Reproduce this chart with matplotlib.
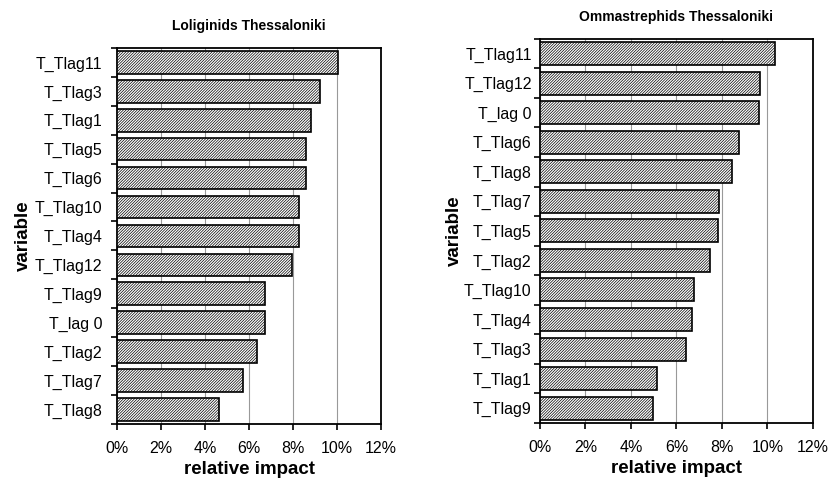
import numpy as np
import matplotlib.pyplot as plt
from matplotlib.ticker import FixedLocator, PercentFormatter

plt.rcParams['font.family'] = ['Liberation Sans', 'DejaVu Sans']
plt.rcParams['hatch.linewidth'] = 0.5
plt.rcParams['hatch.color'] = '#444444'

# relative impact (%) per lag variable, top to bottom
lol_vars = ['T_Tlag11', 'T_Tlag3', 'T_Tlag1', 'T_Tlag5', 'T_Tlag6', 'T_Tlag10', 'T_Tlag4',
            'T_Tlag12', 'T_Tlag9', 'T_lag 0', 'T_Tlag2', 'T_Tlag7', 'T_Tlag8']
lol_vals = [10.06, 9.21, 8.82, 8.6, 8.6, 8.26, 8.26, 7.93, 6.74, 6.74, 6.36, 5.74, 4.64]

omm_vars = ['T_Tlag11', 'T_Tlag12', 'T_lag 0', 'T_Tlag6', 'T_Tlag8', 'T_Tlag7', 'T_Tlag5',
            'T_Tlag2', 'T_Tlag10', 'T_Tlag4', 'T_Tlag3', 'T_Tlag1', 'T_Tlag9']
omm_vals = [10.34, 9.68, 9.62, 8.77, 8.45, 7.89, 7.84, 7.48, 6.77, 6.67, 6.4, 5.13, 4.99]

xticks = [0, 2, 4, 6, 8, 10, 12]


def impact_panel(ax, names, vals, title, title_pad, ypad, ylabpad):
    n = len(names)
    y = np.arange(n)[::-1]
    ax.barh(y, vals, height=0.78, color='white', edgecolor='black',
            linewidth=1.2, hatch='/' * 12, zorder=3)
    ax.set_ylim(-0.5, n - 0.5)
    ax.set_xlim(0, 12)
    ax.set_yticks(y)
    ax.set_yticklabels(names, fontsize=11.5)
    # category ticks sit between the bars
    ax.yaxis.set_minor_locator(FixedLocator(np.arange(n + 1) - 0.5))
    ax.tick_params(axis='y', which='major', length=0, pad=ypad)
    ax.tick_params(axis='y', which='minor', length=4, width=1.2, direction='out')
    ax.set_xticks(xticks)
    ax.xaxis.set_major_formatter(PercentFormatter(decimals=0))
    ax.tick_params(axis='x', length=4, width=1.2, direction='out', labelsize=11.5, pad=8)
    ax.grid(axis='x', color='#999999', linewidth=0.8, zorder=0)
    for s in ax.spines.values():
        s.set_linewidth(1.3)
    ax.set_xlabel('relative impact', fontsize=13.5, fontweight='bold', labelpad=4)
    ax.set_ylabel('variable', fontsize=13.5, fontweight='bold', labelpad=ylabpad)
    ax.set_title(title, fontsize=10, fontweight='bold', pad=title_pad)


fig = plt.figure(figsize=(8.32, 4.8), dpi=100)
ax1 = fig.add_axes([0.141, 0.117, 0.317, 0.783])
ax2 = fig.add_axes([0.649, 0.119, 0.328, 0.8])

impact_panel(ax1, lol_vars, lol_vals, 'Loliginids Thessaloniki', 13, 11, 2)
impact_panel(ax2, omm_vars, omm_vals, 'Ommastrephids Thessaloniki', 13, 6, 1)

fig.savefig('out.png', dpi=100)
